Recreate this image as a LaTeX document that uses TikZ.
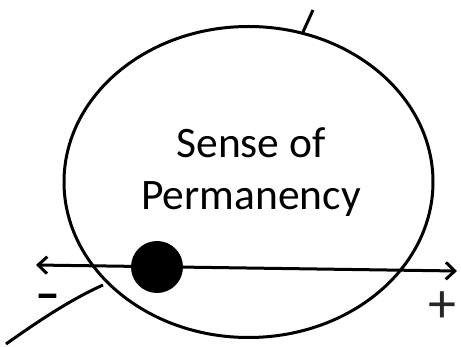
\documentclass[tikz,border=0pt]{standalone}
\usepackage{fontspec}
\setmainfont{Carlito}
\usetikzlibrary{arrows.meta}
\begin{document}
\begin{tikzpicture}[x=1pt,y=-1pt,
  stroke/.style={line width=3pt},
  lbl/.style={font=\fontsize{43.5}{52}\selectfont, align=center, text=black},
  sign/.style={anchor=base, inner sep=0pt}]
\useasboundingbox (0,0) rectangle (461,347);
\coordinate (ell) at (248.5,182);
\draw[stroke] (ell) ellipse [x radius=184.5, y radius=155.5];
\node[lbl] (txt) at (251,172) {Sense of\\Permanency};
\coordinate (topA) at (303,32);
\coordinate (topB) at (313,10);
\draw[stroke] (topA) -- (topB);
\coordinate (L) at (36,265);
\coordinate (R) at (457,271);
\draw[stroke, {Straight Barb[length=9pt,width=17pt]}-{Straight Barb[length=9pt,width=17pt]}] (L) -- (R);
\node[circle, fill=black, minimum size=52pt, inner sep=0pt] (dot) at (157,267) {};
\coordinate (c1) at (103,285);
\coordinate (c2) at (6,344);
\draw[stroke] (c1) .. controls (70,300) and (40,320) .. (c2);
\node[sign, font=\fontsize{50}{50}\selectfont\bfseries] (minus) at (48,311) {–};
\node[sign, font=\fontsize{56}{56}\selectfont, text=black!85] (plus) at (442,323) {+};
\end{tikzpicture}
\end{document}
